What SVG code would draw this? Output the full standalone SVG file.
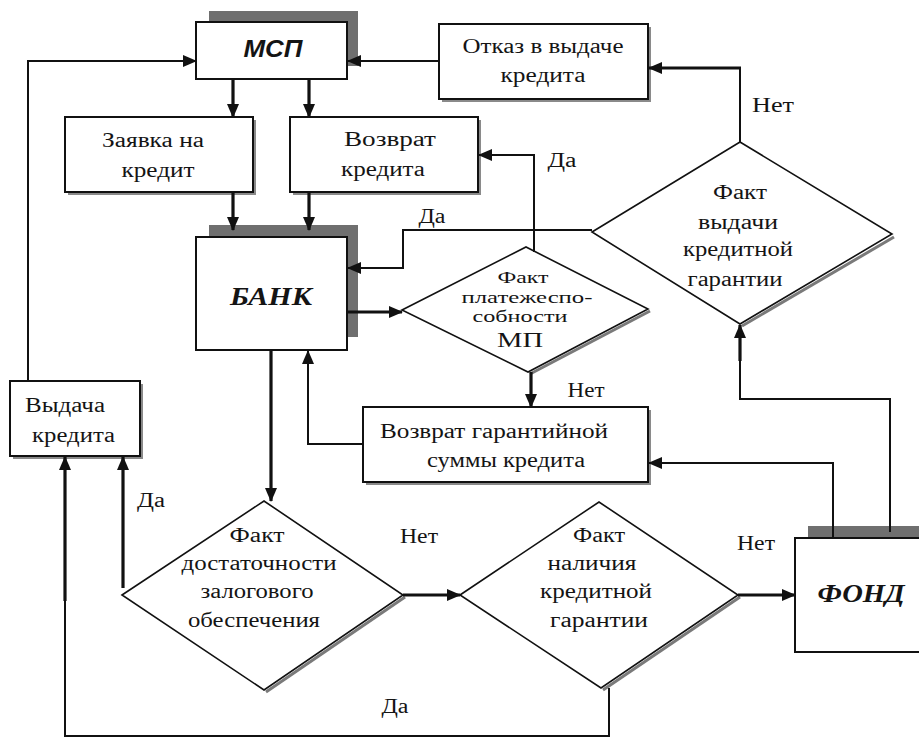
<svg xmlns="http://www.w3.org/2000/svg" width="919" height="738" viewBox="0 0 919 738">
<style>
.box{fill:#fff;stroke:#111;stroke-width:2}
.dia{fill:#fff;stroke:#111;stroke-width:1.6}
.sh{fill:#6f6f6f}
.ssh{fill:#8a8a8a}
.dsh{stroke:#7a7a7a;stroke-width:3;fill:none}
.c{fill:none;stroke:#111;stroke-width:2}
.ck{fill:none;stroke:#111;stroke-width:3.2}
.t{font-family:"Liberation Serif","Times New Roman",serif;font-size:20px;fill:#141414;text-anchor:middle}
.m{font-size:17px}
.b{font-family:"Liberation Serif","Times New Roman",serif;font-size:25px;font-weight:bold;font-style:italic;fill:#141414;text-anchor:middle}
.s{font-family:"Liberation Sans",Arial,sans-serif;font-size:23px;font-weight:bold;font-style:italic;fill:#141414;text-anchor:middle}
</style>
<defs>
<marker id="ah" markerUnits="userSpaceOnUse" markerWidth="14" markerHeight="12" refX="13" refY="6" orient="auto" viewBox="0 0 14 12">
<path d="M0,0 L14,6 L0,12 z" fill="#111"/>
</marker>
</defs>
<rect width="919" height="738" fill="#fff"/>

<g id="msp">
<rect class="sh" x="209" y="11" width="149" height="55"/>
<rect class="box" x="196" y="22" width="151" height="57"/>
<text class="s" x="273" y="57" textLength="59" lengthAdjust="spacingAndGlyphs">МСП</text>
</g>
<g id="otkaz">
<rect class="ssh" x="442" y="27" width="209" height="75"/>
<rect class="box" x="439" y="24" width="209" height="75"/>
<text class="t" x="543" y="53" textLength="161" lengthAdjust="spacingAndGlyphs">Отказ в выдаче</text>
<text class="t" x="543" y="82" textLength="85" lengthAdjust="spacingAndGlyphs">кредита</text>
</g>
<g id="zayavka">
<rect class="ssh" x="68" y="120" width="188" height="75"/>
<rect class="box" x="65" y="117" width="188" height="75"/>
<text class="t" x="153" y="147" textLength="102" lengthAdjust="spacingAndGlyphs">Заявка на</text>
<text class="t" x="158" y="177" textLength="73" lengthAdjust="spacingAndGlyphs">кредит</text>
</g>
<g id="vozvrat">
<rect class="ssh" x="293" y="120" width="188" height="75"/>
<rect class="box" x="290" y="117" width="188" height="75"/>
<text class="t" x="390" y="146" textLength="92" lengthAdjust="spacingAndGlyphs">Возврат</text>
<text class="t" x="383" y="176" textLength="84" lengthAdjust="spacingAndGlyphs">кредита</text>
</g>
<g id="bank">
<rect class="sh" x="209" y="225" width="149" height="112"/>
<rect class="box" x="196" y="237" width="151" height="113"/>
<text class="b" x="271" y="305" textLength="82" lengthAdjust="spacingAndGlyphs">БАНК</text>
</g>
<g id="fakt-mp">
<line class="dsh" x1="650" y1="311" x2="530" y2="374"/>
<polygon class="dia" points="402,310 526,247 648,309 528,372"/>
<text class="t m" x="523" y="283" textLength="51" lengthAdjust="spacingAndGlyphs">Факт</text>
<text class="t m" x="527" y="302.5" textLength="131" lengthAdjust="spacingAndGlyphs">платежеспо-</text>
<text class="t m" x="520" y="322" textLength="95" lengthAdjust="spacingAndGlyphs">собности</text>
<text class="t" x="520" y="347" style="font-size:22px" textLength="46" lengthAdjust="spacingAndGlyphs">МП</text>
</g>
<g id="fakt-vydachi">
<line class="dsh" x1="894" y1="237" x2="742" y2="326"/>
<polygon class="dia" points="592,232 740,142 892,234 740,324"/>
<text class="t" x="740" y="199" textLength="54" lengthAdjust="spacingAndGlyphs">Факт</text>
<text class="t" x="738" y="229" textLength="80" lengthAdjust="spacingAndGlyphs">выдачи</text>
<text class="t" x="738" y="256" textLength="110" lengthAdjust="spacingAndGlyphs">кредитной</text>
<text class="t" x="735" y="286" textLength="95" lengthAdjust="spacingAndGlyphs">гарантии</text>
</g>
<g id="vozvrat-garant">
<rect class="ssh" x="366" y="410" width="285" height="75"/>
<rect class="box" x="363" y="407" width="285" height="75"/>
<text class="t" x="494" y="438" textLength="228" lengthAdjust="spacingAndGlyphs">Возврат гарантийной</text>
<text class="t" x="506" y="467" textLength="158" lengthAdjust="spacingAndGlyphs">суммы кредита</text>
</g>
<g id="vydacha">
<rect class="ssh" x="13" y="384" width="130" height="75"/>
<rect class="box" x="10" y="381" width="130" height="75"/>
<text class="t" x="65" y="412" textLength="80" lengthAdjust="spacingAndGlyphs">Выдача</text>
<text class="t" x="73.5" y="442" textLength="83" lengthAdjust="spacingAndGlyphs">кредита</text>
</g>
<g id="fakt-zalog">
<line class="dsh" x1="405" y1="597" x2="266" y2="692"/>
<polygon class="dia" points="122,595 264,501 403,595 264,690"/>
<text class="t" x="257" y="542" textLength="55" lengthAdjust="spacingAndGlyphs">Факт</text>
<text class="t" x="259" y="570" textLength="155" lengthAdjust="spacingAndGlyphs">достаточности</text>
<text class="t" x="257" y="598" textLength="113" lengthAdjust="spacingAndGlyphs">залогового</text>
<text class="t" x="254" y="627" textLength="132" lengthAdjust="spacingAndGlyphs">обеспечения</text>
</g>
<g id="fakt-nalichiya">
<line class="dsh" x1="740" y1="597" x2="603" y2="690"/>
<polygon class="dia" points="460,595 599,502 738,595 601,688"/>
<text class="t" x="599" y="542" textLength="52" lengthAdjust="spacingAndGlyphs">Факт</text>
<text class="t" x="592" y="570" textLength="89" lengthAdjust="spacingAndGlyphs">наличия</text>
<text class="t" x="596" y="598" textLength="112" lengthAdjust="spacingAndGlyphs">кредитной</text>
<text class="t" x="599" y="627" textLength="98" lengthAdjust="spacingAndGlyphs">гарантии</text>
</g>
<g id="fond">
<rect class="sh" x="808" y="526" width="115" height="14"/>
<rect class="box" x="795" y="538" width="130" height="114"/>
<text class="b" x="861" y="602" textLength="87" lengthAdjust="spacingAndGlyphs">ФОНД</text>
</g>

<g id="connectors">
<path class="ck" d="M233,79 V117" marker-end="url(#ah)"/>
<path class="ck" d="M309,79 V117" marker-end="url(#ah)"/>
<path class="ck" d="M233,192 V230" marker-end="url(#ah)"/>
<path class="ck" d="M309,192 V230" marker-end="url(#ah)"/>
<path class="c" d="M439,61 H348" marker-end="url(#ah)"/>
<path class="c" d="M28,381 V61 H196" marker-end="url(#ah)"/>
<path class="c" d="M740,142 V68" />
<path class="ck" d="M741,68 H649" marker-end="url(#ah)"/>
<path class="c" d="M534,252 V155 H479" marker-end="url(#ah)"/>
<path class="c" d="M592,230 H403 V268 H348" marker-end="url(#ah)"/>
<path class="ck" d="M347,312 H402" marker-end="url(#ah)"/>
<path class="ck" d="M531,372 V407" marker-end="url(#ah)"/>
<path class="c" d="M363,444 H308 V351" marker-end="url(#ah)"/>
<path class="c" d="M833,538 V463 H649" marker-end="url(#ah)"/>
<path class="c" d="M890,532 V399 H740 V360"/>
<path class="ck" d="M740,361 V325" marker-end="url(#ah)"/>
<path class="ck" d="M271,350 V501" marker-end="url(#ah)"/>
<path class="ck" d="M123,588 V457" marker-end="url(#ah)"/>
<path class="ck" d="M403,595 H460" marker-end="url(#ah)"/>
<path class="ck" d="M738,595 H795" marker-end="url(#ah)"/>
<path class="c" d="M609,688 V736 H65 V600"/>
<path class="ck" d="M65,601 V457" marker-end="url(#ah)"/>
</g>

<g id="labels">
<text class="t" x="773" y="112" textLength="42" lengthAdjust="spacingAndGlyphs">Нет</text>
<text class="t" x="562" y="167" textLength="29" lengthAdjust="spacingAndGlyphs">Да</text>
<text class="t" x="432" y="223" textLength="27" lengthAdjust="spacingAndGlyphs">Да</text>
<text class="t" x="586" y="397" textLength="37" lengthAdjust="spacingAndGlyphs">Нет</text>
<text class="t" x="151" y="507" textLength="28" lengthAdjust="spacingAndGlyphs">Да</text>
<text class="t" x="419" y="543" textLength="38" lengthAdjust="spacingAndGlyphs">Нет</text>
<text class="t" x="756" y="550" textLength="38" lengthAdjust="spacingAndGlyphs">Нет</text>
<text class="t" x="395" y="713" textLength="27" lengthAdjust="spacingAndGlyphs">Да</text>
</g>
</svg>
